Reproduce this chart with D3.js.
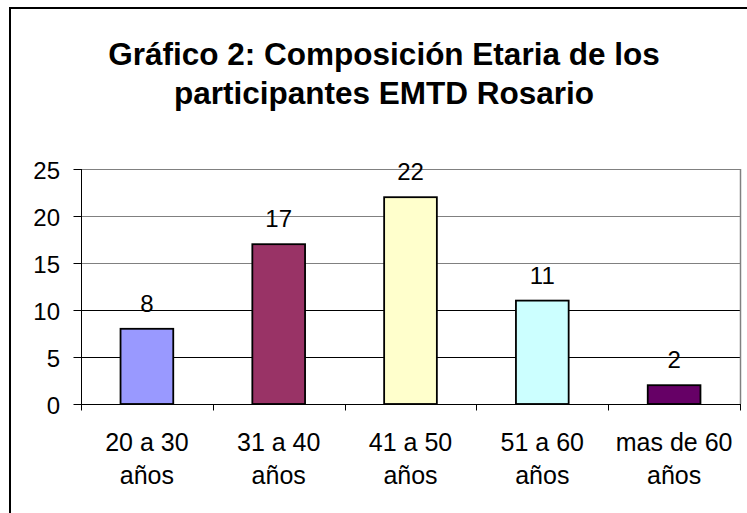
<!DOCTYPE html>
<html>
<head>
<meta charset="utf-8">
<script src="https://cdn.jsdelivr.net/npm/d3@7"></script>
<style>
  html, body { margin: 0; padding: 0; background: #fff; }
  svg { display: block; }
  text { font-family: "Liberation Sans", Arial, sans-serif; fill: #000; }
</style>
</head>
<body>
<script>
// ---- data ----
const titleLines = ["Gráfico 2: Composición Etaria de los", "participantes EMTD Rosario"];
const categories = ["20 a 30 años", "31 a 40 años", "41 a 50 años", "51 a 60 años", "mas de 60 años"];
const categoryLines = [["20 a 30", "años"], ["31 a 40", "años"], ["41 a 50", "años"], ["51 a 60", "años"], ["mas de 60", "años"]];
const values = [8, 17, 22, 11, 2];
const barColors = ["#9999FF", "#993366", "#FFFFCC", "#CCFFFF", "#660066"];
const yTicks = [0, 5, 10, 15, 20, 25];

// ---- layout ----
const W = 747, H = 513;
const plot = { left: 81, right: 740, top: 169, bottom: 404 };

const svg = d3.select("body").append("svg").attr("width", W).attr("height", H);
svg.append("rect").attr("width", W).attr("height", H).attr("fill", "#fff");

// outer chart border
svg.append("rect")
  .attr("x", 10).attr("y", 8).attr("width", 760).attr("height", 530)
  .attr("fill", "none").attr("stroke", "#000").attr("stroke-width", 2);

function txt(g, x, y, str, size, anchor, weight) {
  return g.append("text")
    .attr("x", x).attr("y", y)
    .attr("text-anchor", anchor)
    .attr("font-size", size)
    .attr("font-weight", weight || "normal")
    .text(str);
}

// title
const titleCx = 384;
txt(svg, titleCx, 65, titleLines[0], 31.5, "middle", "bold");
txt(svg, titleCx, 104, titleLines[1], 31.5, "middle", "bold");

// scales
const x = d3.scaleBand().domain(categories).range([plot.left, plot.right]).padding(0);
const y = d3.scaleLinear().domain([0, 25]).range([plot.bottom, plot.top]);

// gridlines
svg.append("g").selectAll("line")
  .data(yTicks.filter(d => d > 0))
  .join("line")
  .attr("x1", plot.left).attr("x2", plot.right)
  .attr("y1", d => Math.round(y(d)) + 0.5).attr("y2", d => Math.round(y(d)) + 0.5)
  .attr("stroke", d => d >= 15 ? "#808080" : "#000")
  .attr("stroke-width", 1);

// plot area right border
svg.append("line")
  .attr("x1", plot.right + 0.5).attr("x2", plot.right + 0.5)
  .attr("y1", plot.top).attr("y2", plot.bottom)
  .attr("stroke", "#808080").attr("stroke-width", 1.5);

// bars
const barW = x.bandwidth() * 0.4;
svg.append("g").selectAll("rect")
  .data(values)
  .join("rect")
  .attr("x", (d, i) => x(categories[i]) + (x.bandwidth() - barW) / 2)
  .attr("y", d => y(d))
  .attr("width", barW)
  .attr("height", d => y(0) - y(d))
  .attr("fill", (d, i) => barColors[i])
  .attr("stroke", "#000")
  .attr("stroke-width", 1.8);

// data labels
const labG = svg.append("g");
values.forEach((v, i) => {
  txt(labG, x(categories[i]) + x.bandwidth() / 2, y(v) - 17, String(v), 24, "middle");
});

// y axis
const yAxis = d3.axisLeft(y).tickValues(yTicks).tickSize(8).tickFormat(d3.format("d"));
const yg = svg.append("g").attr("transform", `translate(${plot.left + 0.5},0)`).call(yAxis);
yg.select(".domain").attr("stroke", "#000").attr("d", `M0,${plot.top}V${plot.bottom + 6}`);
yg.selectAll(".tick line").attr("stroke", "#000");
yg.selectAll(".tick text").remove();
yTicks.forEach(t => {
  txt(svg, 60, y(t) + 10, String(t), 24, "end");
});

// x axis
const xg = svg.append("g").attr("transform", `translate(0,${plot.bottom + 0.5})`);
xg.append("line").attr("x1", plot.left).attr("x2", plot.right + 1).attr("y1", 0).attr("y2", 0)
  .attr("stroke", "#000").attr("stroke-width", 1);
const boundaries = categories.map(c => x(c)).concat([plot.right]);
xg.selectAll("line.tk").data(boundaries).join("line").attr("class", "tk")
  .attr("x1", d => Math.round(d) + 0.5).attr("x2", d => Math.round(d) + 0.5)
  .attr("y1", 0).attr("y2", 6).attr("stroke", "#000");

// x labels
categoryLines.forEach((lines, i) => {
  const cx = x(categories[i]) + x.bandwidth() / 2;
  txt(svg, cx, 451, lines[0], 25, "middle");
  txt(svg, cx, 484, lines[1], 25, "middle");
});
</script>
</body>
</html>
